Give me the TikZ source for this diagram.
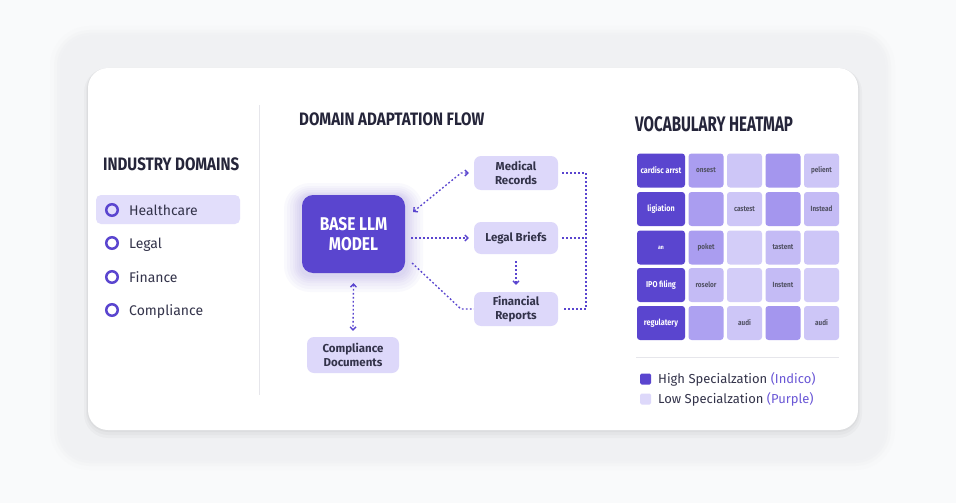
\documentclass[tikz,border=0pt]{standalone}
\usepackage{fontspec}
\setmainfont{Fira Sans}
\newfontfamily\headfont{Fira Sans}[FakeStretch=0.84]
\newfontfamily\heatfont{Fira Sans}[FakeStretch=0.72]
\newfontfamily\cellfont{Fira Sans}[FakeStretch=0.85]
\usetikzlibrary{arrows.meta}
\definecolor{indigo}{HTML}{5A45CF}
\definecolor{lav}{HTML}{DDD8FA}
\definecolor{ink}{HTML}{25253A}
\definecolor{bodyink}{HTML}{33334A}
\definecolor{bg}{HTML}{F9FAFB}
\definecolor{outer}{HTML}{F0F1F3}
\definecolor{divider}{HTML}{E6E6EB}
\definecolor{paren}{HTML}{6A57D6}
\definecolor{mA}{HTML}{AA9DF0}
\definecolor{mB}{HTML}{A496EE}
\definecolor{lA}{HTML}{CDC6F7}
\definecolor{lB}{HTML}{C4BBF5}
\definecolor{lC}{HTML}{D3CDF8}
\tikzset{
  title/.style={anchor=west, inner sep=0, text=ink, font=\headfont\bfseries\fontsize{18}{18}\selectfont},
  item/.style={anchor=base west, inner sep=0, text=bodyink, font=\fontsize{14}{14}\selectfont},
  dot/.style={circle, draw=indigo, line width=2.5pt, minimum size=11.5pt, inner sep=0},
  flowbox/.style={rounded corners=7pt, fill=lav, align=center, text=bodyink,
     font=\bfseries\fontsize{11.5}{13.5}\selectfont, inner sep=0},
  link/.style={indigo, line width=1.35pt, dash pattern=on 1.8pt off 2.2pt},
  barb/.tip={Straight Barb[length=3pt,width=6pt]},
  cell/.style={rounded corners=3pt, minimum height=34pt, inner sep=0,
     font=\cellfont\bfseries\fontsize{7.5}{8}\selectfont, text=bodyink!85},
  hcell/.style={cell, fill=indigo, minimum width=48pt, text=white, font=\cellfont\bfseries\fontsize{8.5}{9}\selectfont},
  ncell/.style={cell, minimum width=35pt},
  legtext/.style={anchor=west, inner sep=0, text=bodyink, font=\fontsize{13}{13}\selectfont},
  glow/.style={indigo, opacity=0.03}
}
\begin{document}
\begin{tikzpicture}[x=1pt,y=-1pt]
\useasboundingbox (0,0) rectangle (956,503);
\fill[bg] (0,0) rectangle (956,503);
% outer card with soft edge
\fill[outer, opacity=0.2, rounded corners=40pt] (50,26) rectangle (895,470);
\fill[outer, opacity=0.35, rounded corners=36pt] (54,30) rectangle (891,466);
\fill[outer, opacity=0.6, rounded corners=33pt] (57,33) rectangle (888,463);
\fill[outer, rounded corners=30pt] (60,36) rectangle (885,460);
% inner card shadow
\fill[black, opacity=0.025, rounded corners=24pt] (84,68) rectangle (862,438);
\fill[black, opacity=0.025, rounded corners=22pt] (86,68) rectangle (860,435);
\fill[black, opacity=0.03, rounded corners=21pt] (87,68) rectangle (859,432);
\fill[white, rounded corners=20pt] (88,68) rectangle (858,430);
\draw[divider, line width=1pt] (259,105) -- (259,395);

% left panel
\node[title] (tind) at (103,164) {INDUSTRY DOMAINS};
\fill[lav!85, rounded corners=5pt] (96,195) rectangle (240,224);
\node[dot] (d1) at (112,210) {};
\node[item] (i1) at (129,215) {Healthcare};
\node[dot] (d2) at (112,243) {};
\node[item] (i2) at (129,248) {Legal};
\node[dot] (d3) at (112,277) {};
\node[item] (i3) at (129,282) {Finance};
\node[dot] (d4) at (112,310) {};
\node[item] (i4) at (129,315) {Compliance};

% flow
\node[title] (tflow) at (299,119.5) {DOMAIN ADAPTATION FLOW};
\fill[glow, rounded corners=26pt] (284,183) rectangle (423,292);
\fill[glow, rounded corners=23pt] (287,186) rectangle (420,289);
\fill[glow, rounded corners=20pt] (290,188) rectangle (417,286);
\fill[glow, rounded corners=17pt] (293,190) rectangle (414,283);
\fill[glow, rounded corners=15pt] (295,192) rectangle (412,281);
\fill[glow, rounded corners=13pt] (297,193) rectangle (410,279);
\fill[glow, rounded corners=12pt] (299,194) rectangle (408,277);
\node[rounded corners=11pt, fill=indigo, minimum width=103pt, minimum height=78pt, inner sep=0,
  text=white, align=center, font=\headfont\bfseries\fontsize{18.5}{20}\selectfont]
  (base) at (353.5,234) {BASE LLM\\MODEL};
\node[flowbox, minimum width=84pt, minimum height=34pt] (med) at (516,173) {Medical\\Records};
\node[flowbox, minimum width=84pt, minimum height=32pt] (leg) at (516,238) {Legal Briefs};
\node[flowbox, minimum width=84pt, minimum height=34pt] (fin) at (516,309) {Financial\\Reports};
\node[flowbox, minimum width=92pt, minimum height=36pt] (comp) at (353,355) {Compliance\\Documents};

\coordinate (bm) at (413,212);
\coordinate (mk) at (461,173);
\coordinate (bf) at (412,263);
\coordinate (fk) at (461,309);
\coordinate (rt) at (586,173);
\coordinate (rb) at (586,309);
\draw[link, barb-barb] (bm) -- (mk) -- ([xshift=-5pt]med.west);
\draw[link, -barb] ([xshift=6pt]base.east |- leg.west) -- ([xshift=-5pt]leg.west);
\draw[link] (bf) -- (fk) -- (fin.west);
\draw[link, -barb] ([yshift=-7pt]leg.south) -- ([yshift=7pt]fin.north);
\draw[link] ([xshift=4pt]med.east) -- (rt) -- (rb) -- ([xshift=4pt]fin.east);
\draw[link] ([xshift=4pt]leg.east) -- (rt |- leg.east);
\draw[link, barb-barb] ([yshift=-10pt]base.south) -- ([yshift=6pt]comp.north);

% heatmap
\node[title, font=\heatfont\bfseries\fontsize{21}{21}\selectfont] (theat) at (635,124.5) {VOCABULARY HEATMAP};
% row 1
\node[hcell] (c11) at (661,170.5) {cardisc arrst};
\node[ncell, fill=mA] (c12) at (706,170.5) {onsest};
\node[ncell, fill=lA] (c13) at (744.5,170.5) {};
\node[ncell, fill=mB] (c14) at (783,170.5) {};
\node[ncell, fill=lA] (c15) at (821.5,170.5) {pelient};
% row 2
\node[hcell] (c21) at (661,209) {ligiation};
\node[ncell, fill=mA] (c22) at (706,209) {};
\node[ncell, fill=lA] (c23) at (744.5,209) {castest};
\node[ncell, fill=mB] (c24) at (783,209) {};
\node[ncell, fill=lB] (c25) at (821.5,209) {Instead};
% row 3
\node[hcell] (c31) at (661,247.5) {\fontsize{6}{6}\selectfont an};
\node[ncell, fill=mA] (c32) at (706,247.5) {poket};
\node[ncell, fill=lC] (c33) at (744.5,247.5) {};
\node[ncell, fill=lB] (c34) at (783,247.5) {tastent};
\node[ncell, fill=lA] (c35) at (821.5,247.5) {};
% row 4
\node[hcell] (c41) at (661,285) {IPO filing};
\node[ncell, fill=lB] (c42) at (706,285) {roselor};
\node[ncell, fill=lC] (c43) at (744.5,285) {};
\node[ncell, fill=lB] (c44) at (783,285) {Instent};
\node[ncell, fill=lC] (c45) at (821.5,285) {};
% row 5
\node[hcell] (c51) at (661,323) {regulatery};
\node[ncell, fill=mA!90!lA] (c52) at (706,323) {};
\node[ncell, fill=lA] (c53) at (744.5,323) {audi};
\node[ncell, fill=mB] (c54) at (783,323) {};
\node[ncell, fill=lA] (c55) at (821.5,323) {audi};

\draw[divider, line width=1pt] (636,357) -- (839,357);
\node[fill=indigo, rounded corners=1.5pt, minimum size=11pt, inner sep=0] (lg1) at (645.5,379) {};
\node[legtext] (lt1) at (658,379) {High Specialzation \textcolor{paren}{(Indico)}};
\node[fill=lav, rounded corners=1.5pt, minimum size=11pt, inner sep=0] (lg2) at (645.5,399) {};
\node[legtext] (lt2) at (658,399) {Low Specialzation \textcolor{paren}{(Purple)}};
\end{tikzpicture}
\end{document}
